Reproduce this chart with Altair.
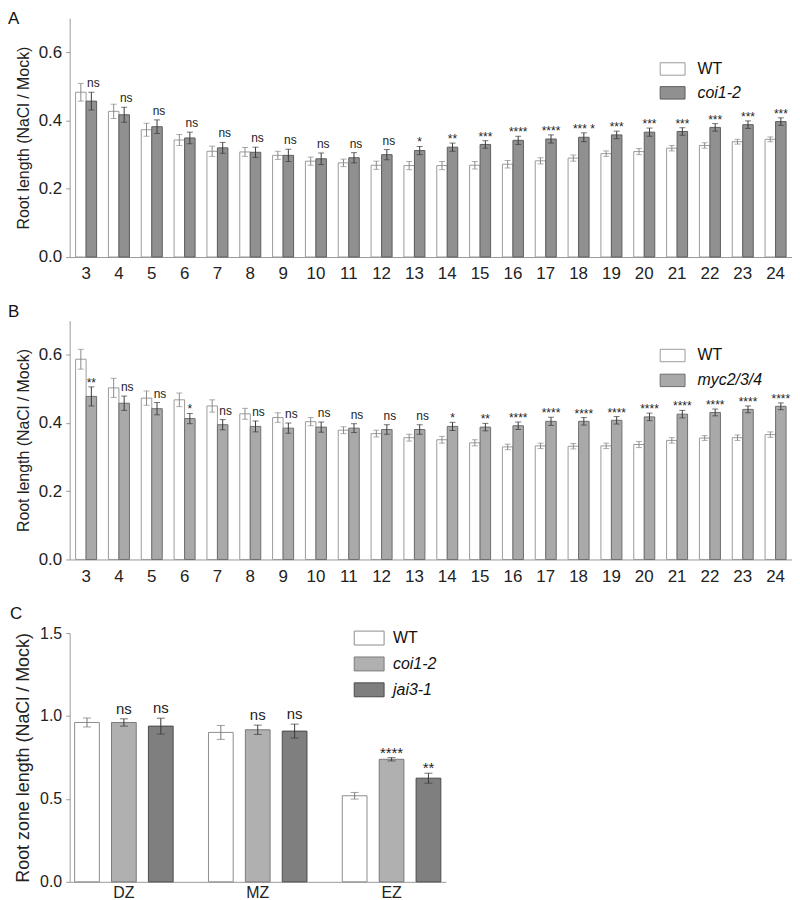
import altair as alt
import pandas as pd

FONT = "Liberation Sans"

# ---------------- data ----------------
days = [str(d) for d in range(3, 25)]

a_groups = ["WT", "coi1-2"]
a_wt = [0.483, 0.427, 0.373, 0.343, 0.310, 0.308, 0.298, 0.281, 0.276, 0.269, 0.268,
        0.268, 0.269, 0.272, 0.282, 0.290, 0.303, 0.309, 0.319, 0.327, 0.338, 0.345]
a_wt_err = [0.026, 0.021, 0.019, 0.016, 0.015, 0.013, 0.012, 0.012, 0.011, 0.012, 0.012,
            0.012, 0.011, 0.011, 0.009, 0.009, 0.008, 0.009, 0.008, 0.008, 0.007, 0.007]
a_mut = [0.457, 0.417, 0.382, 0.349, 0.320, 0.307, 0.298, 0.288, 0.291, 0.300, 0.312,
         0.322, 0.330, 0.342, 0.346, 0.351, 0.358, 0.366, 0.368, 0.380, 0.388, 0.397]
a_mut_err = [0.026, 0.022, 0.020, 0.017, 0.016, 0.015, 0.018, 0.017, 0.015, 0.015, 0.012,
             0.012, 0.011, 0.012, 0.012, 0.013, 0.011, 0.012, 0.011, 0.011, 0.011, 0.011]
a_sig = ["ns"] * 10 + ["*", "**", "***", "****", "****", "*** *", "***", "***", "***",
                       "***", "***", "***"]

b_groups = ["WT", "myc2/3/4"]
b_wt = [0.587, 0.503, 0.473, 0.468, 0.450, 0.427, 0.416, 0.404, 0.379, 0.369, 0.357,
        0.351, 0.342, 0.330, 0.333, 0.332, 0.333, 0.337, 0.349, 0.356, 0.357, 0.366]
b_wt_err = [0.029, 0.028, 0.021, 0.020, 0.018, 0.016, 0.014, 0.012, 0.010, 0.010, 0.010,
            0.010, 0.009, 0.008, 0.008, 0.008, 0.008, 0.009, 0.008, 0.007, 0.008, 0.008]
b_mut = [0.478, 0.458, 0.442, 0.413, 0.395, 0.390, 0.385, 0.388, 0.385, 0.381, 0.381,
         0.390, 0.388, 0.392, 0.405, 0.405, 0.408, 0.418, 0.426, 0.431, 0.440, 0.449]
b_mut_err = [0.028, 0.021, 0.018, 0.015, 0.015, 0.016, 0.015, 0.015, 0.013, 0.014, 0.014,
             0.012, 0.011, 0.011, 0.012, 0.011, 0.011, 0.011, 0.011, 0.010, 0.010, 0.010]
b_sig = ["**", "ns", "ns", "*", "ns", "ns", "ns", "ns", "ns", "ns", "ns", "*", "**"] + ["****"] * 9

zones = ["DZ", "MZ", "EZ"]
c_groups = ["WT", "coi1-2", "jai3-1"]
c_wt = [0.961, 0.901, 0.519]
c_wt_err = [0.027, 0.042, 0.020]
c_coi = [0.961, 0.917, 0.739]
c_coi_err = [0.022, 0.028, 0.010]
c_jai = [0.939, 0.909, 0.625]
c_jai_err = [0.048, 0.042, 0.030]
c_coi_sig = ["ns", "ns", "****"]
c_jai_sig = ["ns", "ns", "**"]


def long_df(cats, groups, means, errs, sigs):
    rows = []
    for g, m_list, e_list, s_list in zip(groups, means, errs, sigs):
        for i, c in enumerate(cats):
            m, e = m_list[i], e_list[i]
            rows.append(dict(cat=c, geno=g, mean=m, lo=m - e, hi=m + e,
                             sig=(s_list[i] if s_list else "")))
    return pd.DataFrame(rows)


df_a = long_df(days, a_groups, [a_wt, a_mut], [a_wt_err, a_mut_err], [None, a_sig])
df_b = long_df(days, b_groups, [b_wt, b_mut], [b_wt_err, b_mut_err], [None, b_sig])
df_c = long_df(zones, c_groups, [c_wt, c_coi, c_jai], [c_wt_err, c_coi_err, c_jai_err],
               [None, c_coi_sig, c_jai_sig])


def panel(df, cats, groups, fills, strokes, errcols, letter, letter_x, letter_y,
          ytitle, ydomain, yvalues, width, height, pad_in, pad_out, off_pad,
          leg_x, leg_y, sym_path, sym_size, leg_row_pad, leg_label_off,
          label_size, title_size, sig_size, ns_size, cap, sig_dx, xlab_pad):
    xenc = alt.X("cat:N", sort=cats,
                 scale=alt.Scale(domain=cats, paddingInner=pad_in, paddingOuter=pad_out),
                 axis=alt.Axis(title=None, labelAngle=0, ticks=False, labelPadding=xlab_pad,
                               labelFontSize=label_size))
    xoff = alt.XOffset("geno:N", sort=groups,
                       scale=alt.Scale(domain=groups, paddingInner=off_pad, paddingOuter=0))
    yscale = alt.Scale(domain=ydomain, nice=False, zero=True)
    base = alt.Chart(df)
    bars = base.mark_bar(strokeWidth=1).encode(
        x=xenc, xOffset=xoff,
        y=alt.Y("mean:Q", scale=yscale, title=ytitle,
                axis=alt.Axis(values=yvalues, format=".1f", tickSize=4, labelPadding=4,
                              titlePadding=7, labelFontSize=label_size,
                              titleFontSize=title_size)),
        fill=alt.Fill("geno:N", scale=alt.Scale(domain=groups, range=fills),
                      legend=alt.Legend(title=None, orient="none", legendX=leg_x,
                                        legendY=leg_y, symbolType=sym_path,
                                        symbolSize=sym_size, symbolStrokeWidth=1,
                                        rowPadding=leg_row_pad, labelOffset=leg_label_off,
                                        labelFontSize=16, labelFont=FONT,
                                        labelColor="#111", padding=0,
                                        labelFontStyle=alt.ExprRef(
                                            "datum.label == 'WT' ? 'normal' : 'italic'"))),
        stroke=alt.Stroke("geno:N", scale=alt.Scale(domain=groups, range=strokes)),
    )
    ecolor = alt.Color("geno:N", scale=alt.Scale(domain=groups, range=errcols), legend=None)
    rule = base.mark_rule(strokeWidth=1).encode(
        x=xenc, xOffset=xoff,
        y=alt.Y("lo:Q", scale=yscale, title=ytitle), y2="hi:Q", color=ecolor)
    tick_lo = base.mark_tick(orient="horizontal", size=cap, thickness=1).encode(
        x=xenc, xOffset=xoff, y=alt.Y("lo:Q", scale=yscale, title=ytitle), color=ecolor)
    tick_hi = base.mark_tick(orient="horizontal", size=cap, thickness=1).encode(
        x=xenc, xOffset=xoff, y=alt.Y("hi:Q", scale=yscale, title=ytitle), color=ecolor)
    ns_txt = base.transform_filter("datum.sig == 'ns'").mark_text(
        baseline="bottom", dy=-2, dx=sig_dx, font=FONT, fontSize=ns_size, color="#222"
    ).encode(x=xenc, xOffset=xoff, y=alt.Y("hi:Q", scale=yscale, title=ytitle), text="sig:N")
    st_txt = base.transform_filter("datum.sig != 'ns' && datum.sig != ''").mark_text(
        baseline="bottom", dy=3, font=FONT, fontSize=sig_size, color="#222"
    ).encode(x=xenc, xOffset=xoff, y=alt.Y("hi:Q", scale=yscale, title=ytitle), text="sig:N")
    let = alt.Chart(pd.DataFrame({"t": [letter]})).mark_text(
        align="left", baseline="alphabetic", font=FONT, fontSize=17, color="#111"
    ).encode(text="t:N", x=alt.value(letter_x), y=alt.value(letter_y))
    return alt.layer(bars, rule, tick_lo, tick_hi, ns_txt, st_txt, let).properties(
        width=width, height=height)


A = panel(df_a, days, a_groups, ["#ffffff", "#909090"], ["#9a9a9a", "#5e5e5e"],
          ["#8a8a8a", "#3a3a3a"], "A", -62, 6,
          "Root length (NaCl / Mock)", [0, 0.7], [0, 0.2, 0.4, 0.6], 726, 240,
          0.36, 0.18, 0, 598, 43, "M-2,-1H2V1H-2Z", 156, 6, 17,
          17, 16, 12, 12, 6, 2, 9)
B = panel(df_b, days, b_groups, ["#ffffff", "#a9a9a9"], ["#9a9a9a", "#6e6e6e"],
          ["#8a8a8a", "#3a3a3a"], "B", -62, -4,
          "Root length (NaCl / Mock)", [0, 0.7], [0, 0.2, 0.4, 0.6], 726, 240,
          0.36, 0.18, 0, 598, 27, "M-2,-1H2V1H-2Z", 156, 7, 17,
          17, 16, 12, 12, 6, 3, 9)
C = panel(df_c, zones, c_groups, ["#ffffff", "#b0b0b0", "#7f7f7f"],
          ["#8c8c8c", "#7a7a7a", "#4a4a4a"], ["#777777", "#3a3a3a", "#3a3a3a"], "C", -60, -14,
          "Root zone length (NaCl / Mock)", [0, 1.5], [0, 0.5, 1.0, 1.5], 378, 250,
          0.264, 0.037, 0.33, 293, -3, "M-2,-0.933H2V0.933H-2Z", 225, 8, 16,
          16, 18, 15, 15, 8, 0, 3)

chart = alt.vconcat(A, B, C, spacing=21).resolve_scale(
    fill="independent", stroke="independent", color="independent", xOffset="independent"
).resolve_legend(fill="independent", stroke="independent").properties(
    padding={"left": 0, "top": 0, "right": 0, "bottom": 0}
).configure_view(stroke=None).configure_axis(
    labelFont=FONT, titleFont=FONT, titleFontWeight="normal", labelColor="#222",
    titleColor="#222", domainColor="#9a9a9a", tickColor="#9a9a9a", grid=False
).configure_legend(labelFont=FONT)

chart.save("out.html", embed_options={"renderer": "svg", "actions": False})
